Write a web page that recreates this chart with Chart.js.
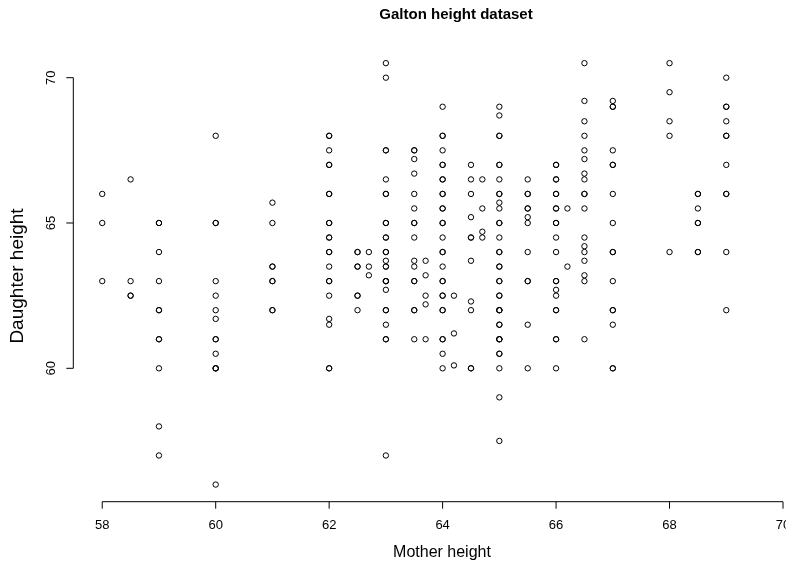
<!DOCTYPE html>
<html><head><meta charset="utf-8">
<script src="https://cdn.jsdelivr.net/npm/chart.js@4"></script>
<style>
html,body{margin:0;padding:0;overflow:hidden;background:#fff;width:786px;height:568px}
#wrap{position:relative;width:800px;height:568px}
canvas{display:block}
</style></head>
<body><div id="wrap"><canvas id="c" width="800" height="568"></canvas></div>
<script>
// Observations grouped by mother height; count = number of coincident observations
const mother = [
  58,58,58,
  58.5,58.5,58.5,
  59,59,59,59,59,59,59,59,
  60,60,60,60,60,60,60,60,60,60,
  61,61,61,61,61,
  62,62,62,62,62,62,62,62,62,62,62,62,62,
  62.5,62.5,62.5,62.5,
  62.7,62.7,62.7,
  63,63,63,63,63,63,63,63,63,63,63,63,63,63,63,63,
  63.5,63.5,63.5,63.5,63.5,63.5,63.5,63.5,63.5,63.5,63.5,63.5,
  63.7,63.7,63.7,63.7,63.7,
  64,64,64,64,64,64,64,64,64,64,64,64,64,64,64,64,64,
  64.2,64.2,64.2,
  64.5,64.5,64.5,64.5,64.5,64.5,64.5,64.5,64.5,
  64.7,64.7,64.7,64.7,
  65,65,65,65,65,65,65,65,65,65,65,65,65,65,65,65,65,65,65,65,65,
  65.5,65.5,65.5,65.5,65.5,65.5,65.5,65.5,65.5,
  66,66,66,66,66,66,66,66,66,66,66,66,66,
  66.2,66.2,
  66.5,66.5,66.5,66.5,66.5,66.5,66.5,66.5,66.5,66.5,66.5,66.5,66.5,66.5,66.5,66.5,66.5,
  67,67,67,67,67,67,67,67,67,67,67,
  68,68,68,68,68,
  68.5,68.5,68.5,68.5,
  69,69,69,69,69,69,69,69
];
const daughter = [
  66,65,63,
  66.5,63,62.5,
  65,64,63,62,61,60,58,57,
  68,65,63,62.5,62,61.7,61,60.5,60,56,
  65.7,65,63.5,63,62,
  68,67.5,67,66,65,64.5,64,63.5,63,62.5,61.7,61.5,60,
  64,63.5,62.5,62,
  64,63.5,63.2,
  70.5,70,67.5,66.5,66,65,64.5,64,63.7,63.5,63,62.7,62,61.5,61,57,
  67.5,67.2,66.7,66,65.5,65,64.5,63.7,63.5,63,62,61,
  63.7,63.2,62.5,62.2,61,
  69,68,67.5,67,66.5,66,65.5,65,64.5,64,63.5,63,62.5,62,61,60.5,60,
  62.5,61.2,60.1,
  67,66.5,66,65.2,64.5,63.7,62.3,62,60,
  66.5,65.5,64.7,64.5,
  69,68.7,68,67,66.5,66,65.7,65.5,65,64.5,64,63.5,63,62.5,62,61.5,61,60.5,60,59,57.5,
  66.5,66,65.5,65.2,65,64,63,61.5,60,
  67,66.5,66,65.5,65,64.5,64,63,62.7,62.5,62,61,60,
  65.5,63.5,
  70.5,69.2,68.5,68,67.5,67.2,66.7,66.5,66,65.5,64.5,64.2,64,63.7,63.2,63,61,
  69.2,69,67.5,67,66,65,64,63,62,61.5,60,
  70.5,69.5,68.5,68,64,
  66,65.5,65,64,
  70,69,68.5,68,67,66,64,62
];
const count = [
  1,1,1,
  1,1,2,
  2,1,1,2,2,1,1,1,
  1,2,1,1,1,1,2,1,3,1,
  1,1,2,2,2,
  2,1,2,2,2,2,2,1,2,1,1,1,2,
  2,2,2,1,
  1,1,1,
  1,1,2,1,2,2,2,2,1,2,3,1,2,1,2,1,
  2,1,1,1,1,2,1,1,1,2,2,1,
  1,1,1,1,1,
  1,2,1,2,2,2,2,2,1,2,1,2,2,2,2,1,1,
  1,1,1,
  1,1,1,1,2,1,1,1,2,
  1,1,1,1,
  1,1,2,2,1,2,1,1,2,1,2,2,2,2,3,2,3,2,1,1,1,
  1,2,2,1,1,1,2,1,1,
  2,2,2,2,2,1,1,2,1,1,2,2,1,
  1,1,
  1,1,1,1,1,1,1,1,2,1,1,1,1,1,1,1,1,
  1,2,1,2,1,1,2,1,2,1,2,
  1,1,1,1,1,
  2,1,2,2,
  1,2,1,2,1,2,1,1
];
const xTicks = [58, 60, 62, 64, 66, 68, 70];
const yTicks = [60, 65, 70];
const chartTitle = 'Galton height dataset';
const xTitle = 'Mother height';
const yTitle = 'Daughter height';

const points = [];
mother.forEach((m, i) => {
  for (let k = 0; k < count[i]; k++) points.push({x: m, y: daughter[i]});
});

const FONT = '"Liberation Sans", Arial, Helvetica, sans-serif';

const rAxes = {
  id: 'rAxes',
  afterDraw(chart) {
    const ctx = chart.ctx;
    const xs = chart.scales.x, ys = chart.scales.y;
    const area = chart.chartArea;
    ctx.save();
    ctx.strokeStyle = '#000';
    ctx.fillStyle = '#000';
    ctx.lineWidth = 1;
    const tl = 7;
    // x axis
    const xa = area.bottom;
    ctx.beginPath();
    ctx.moveTo(xs.getPixelForValue(xTicks[0]), xa);
    ctx.lineTo(xs.getPixelForValue(xTicks[xTicks.length - 1]), xa);
    xTicks.forEach(t => {
      const px = xs.getPixelForValue(t);
      ctx.moveTo(px, xa);
      ctx.lineTo(px, xa + tl);
    });
    ctx.stroke();
    ctx.font = '13px ' + FONT;
    ctx.textAlign = 'center';
    ctx.textBaseline = 'middle';
    xTicks.forEach(t => ctx.fillText(String(t), xs.getPixelForValue(t), xa + 24));
    // y axis
    const ya = area.left;
    ctx.beginPath();
    ctx.moveTo(ya, ys.getPixelForValue(yTicks[0]));
    ctx.lineTo(ya, ys.getPixelForValue(yTicks[yTicks.length - 1]));
    yTicks.forEach(t => {
      const py = ys.getPixelForValue(t);
      ctx.moveTo(ya, py);
      ctx.lineTo(ya - tl, py);
    });
    ctx.stroke();
    yTicks.forEach(t => {
      ctx.save();
      ctx.translate(ya - 21.5, ys.getPixelForValue(t));
      ctx.rotate(-Math.PI / 2);
      ctx.fillText(String(t), 0, 0);
      ctx.restore();
    });
    // titles
    ctx.font = 'bold 15px ' + FONT;
    ctx.fillText(chartTitle, 456, 15);
    ctx.font = '16px ' + FONT;
    ctx.fillText(xTitle, 442, 553);
    ctx.font = '19px ' + FONT;
    ctx.save();
    ctx.translate(18, 276);
    ctx.rotate(-Math.PI / 2);
    ctx.fillText(yTitle, 0, 0);
    ctx.restore();
    ctx.restore();
  }
};

new Chart(document.getElementById('c'), {
  type: 'scatter',
  data: {
    datasets: [{
      data: points,
      showLine: false,
      pointStyle: 'circle',
      pointRadius: 2.7,
      pointHoverRadius: 2.7,
      pointBorderWidth: 1,
      pointBorderColor: '#000',
      pointBackgroundColor: 'rgba(0,0,0,0)'
    }]
  },
  options: {
    responsive: false,
    animation: false,
    devicePixelRatio: 1,
    layout: {padding: {left: 73.3, top: 46.3, right: 17, bottom: 66.3}},
    scales: {
      x: {type: 'linear', min: 57.49, max: 70, display: false},
      y: {type: 'linear', min: 55.41, max: 71.08, display: false}
    },
    plugins: {legend: {display: false}, tooltip: {enabled: false}, title: {display: false}}
  },
  plugins: [rAxes]
});
</script>
</body></html>
